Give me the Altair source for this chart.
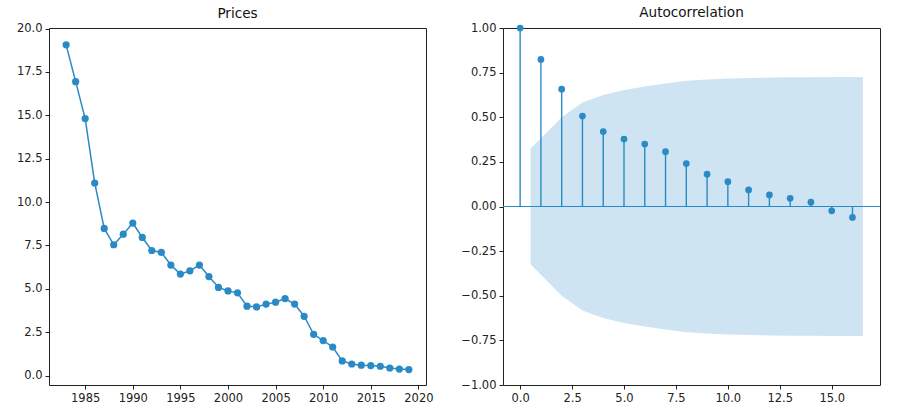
import altair as alt
import pandas as pd

# ---- data ----
years = list(range(1983, 2020))
prices = [19.06, 16.94, 14.81, 11.10, 8.48, 7.54, 8.15, 8.79, 7.96, 7.21,
          7.10, 6.37, 5.85, 6.04, 6.37, 5.71, 5.08, 4.88, 4.77, 4.00,
          3.96, 4.12, 4.23, 4.44, 4.12, 3.42, 2.38, 2.02, 1.65, 0.85,
          0.67, 0.60, 0.58, 0.54, 0.44, 0.38, 0.35]

lags = list(range(0, 17))
acf = [1.0, 0.824, 0.657, 0.507, 0.420, 0.378, 0.350, 0.307, 0.241, 0.181,
       0.139, 0.093, 0.065, 0.046, 0.024, -0.024, -0.061]

band_x = [0.5, 2, 3, 4, 5, 6, 7, 8, 9, 10, 11, 12, 13, 14, 15, 16.5]
band_hi = [0.324, 0.50, 0.583, 0.624, 0.652, 0.672, 0.689, 0.704, 0.711,
           0.717, 0.720, 0.722, 0.724, 0.724, 0.726, 0.726]

price_ticks = [0, 2.5, 5, 7.5, 10, 12.5, 15, 17.5, 20]
year_ticks = [1985, 1990, 1995, 2000, 2005, 2010, 2015, 2020]
acf_yticks = [-1, -0.75, -0.5, -0.25, 0, 0.25, 0.5, 0.75, 1]
acf_xticks = [0, 2.5, 5, 7.5, 10, 12.5, 15]

C0 = "#2a8ac6"
W, H = 377, 357

df_p = pd.DataFrame({"year": years, "price": prices})
df_a = pd.DataFrame({"lag": lags, "acf": acf})
df_b = pd.DataFrame({"x": band_x, "hi": band_hi})

title_kw = dict(fontSize=13.6, fontWeight="normal", font="DejaVu Sans", color="#111", offset=2)

# ---- left panel ----
xp = alt.X("year:Q", scale=alt.Scale(domain=[1981.2, 2020.8], nice=False, zero=False),
           axis=alt.Axis(values=year_ticks, format="d", title=None))
yp = alt.Y("price:Q", scale=alt.Scale(domain=[-0.54, 20.03], nice=False, zero=False),
           axis=alt.Axis(values=price_ticks, format=".1f", title=None))

base_p = alt.Chart(df_p).encode(x=xp, y=yp)
left = alt.layer(
    base_p.mark_line(color=C0, strokeWidth=1.5),
    base_p.mark_circle(color=C0, size=52, opacity=1),
).properties(width=W, height=H, title=alt.TitleParams("Prices", **title_kw))

# ---- right panel ----
xs = alt.Scale(domain=[-0.825, 17.325], nice=False, zero=False)
ys = alt.Scale(domain=[-1, 1], nice=False, zero=False)
xa = alt.Axis(values=acf_xticks, format=".1f", title=None)
ya = alt.Axis(values=acf_yticks, format=".2f", title=None)

band = alt.Chart(df_b).transform_calculate(lo="-datum.hi").mark_area(
    color=C0, opacity=0.23, interpolate="linear"
).encode(x=alt.X("x:Q", scale=xs, axis=xa), y=alt.Y("hi:Q", scale=ys, axis=ya), y2="lo:Q")

zero_line = alt.Chart(df_a).mark_rule(color=C0, strokeWidth=1.1).encode(y=alt.datum(0))

stems = alt.Chart(df_a).mark_rule(color=C0, strokeWidth=1.4).encode(
    x=alt.X("lag:Q", scale=xs, axis=xa), y=alt.Y("acf:Q", scale=ys, axis=ya), y2=alt.datum(0))
dots = alt.Chart(df_a).mark_circle(color=C0, size=45, opacity=1).encode(
    x=alt.X("lag:Q", scale=xs, axis=xa), y=alt.Y("acf:Q", scale=ys, axis=ya))

right = alt.layer(band, zero_line, stems, dots).properties(
    width=W, height=H, title=alt.TitleParams("Autocorrelation", **title_kw))

chart = alt.hconcat(left, right, spacing=26).properties(
    padding={"left": 15, "top": 5, "right": 5, "bottom": 5},
    background="white",
).configure_view(stroke="#222", strokeWidth=1).configure_axis(
    grid=False, domain=False, ticks=True, tickColor="#222", tickSize=4, tickWidth=1,
    labelFont="DejaVu Sans", labelFontSize=11.5, labelColor="#222", labelPadding=3,
)

chart.save("out.html", embed_options={"renderer": "svg", "actions": False})
